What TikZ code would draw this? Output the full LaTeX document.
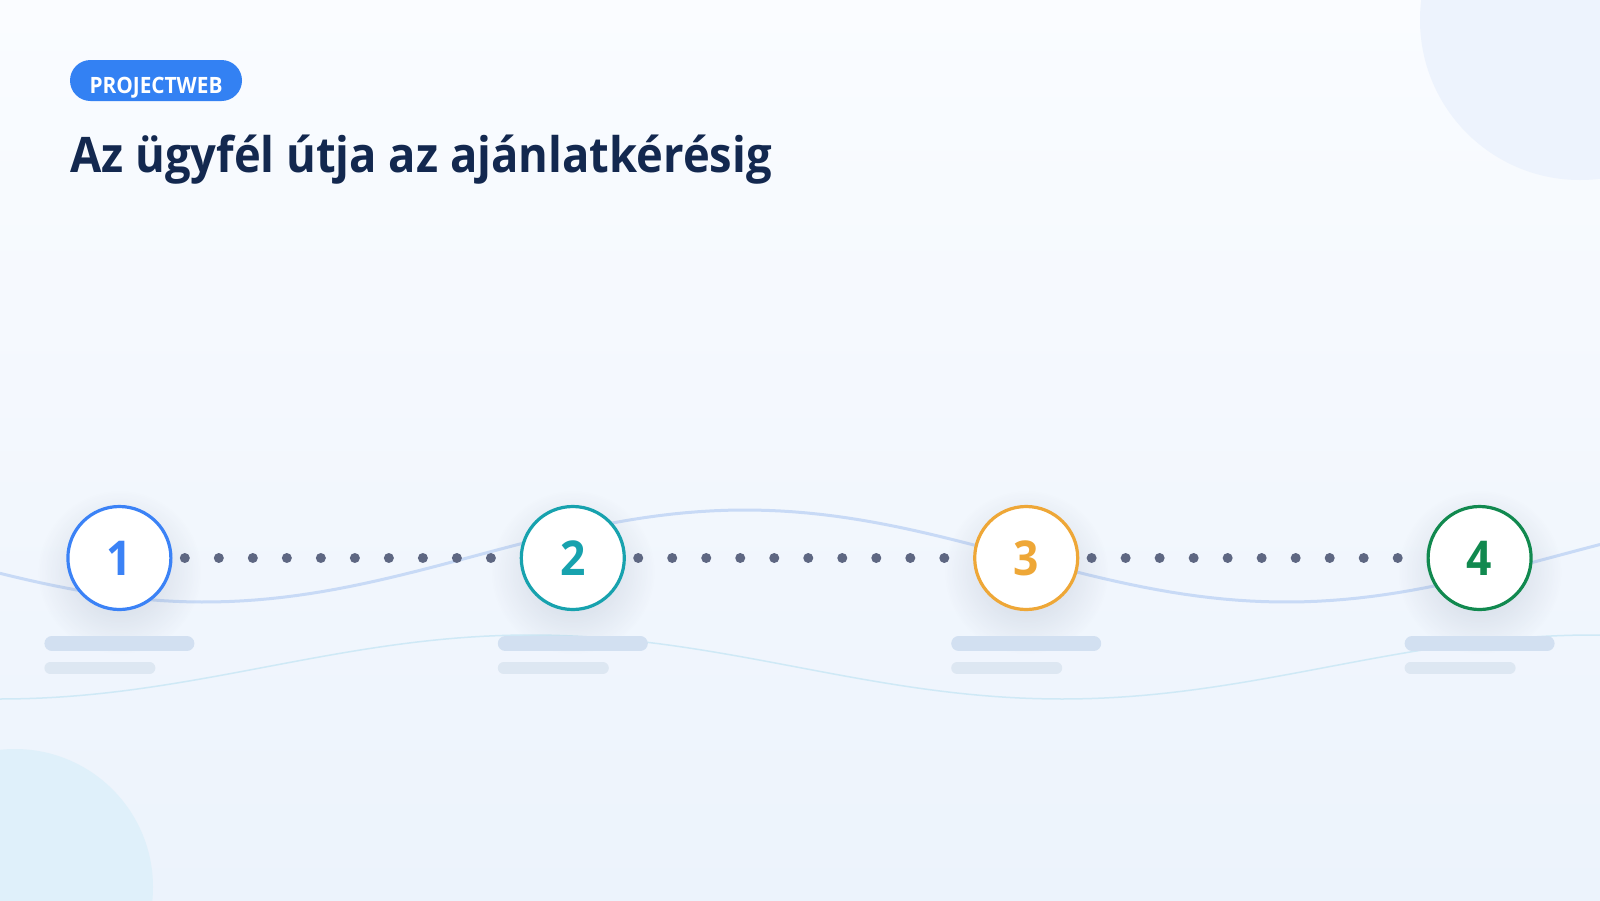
\documentclass[tikz,border=0pt]{standalone}
\usepackage{fontspec}
\setmainfont{Open Sans}
\newfontfamily\headfont[FakeStretch=0.925]{Open Sans}
\usepackage{tikz}
\usetikzlibrary{fadings,positioning}
\definecolor{bgtop}{HTML}{FAFCFF}
\definecolor{bgbot}{HTML}{ECF3FC}
\definecolor{decoA}{HTML}{EDF3FD}
\definecolor{decoB}{HTML}{DFF0FA}
\definecolor{badgeblue}{HTML}{3381F3}
\definecolor{titlenavy}{HTML}{13284F}
\definecolor{stepA}{HTML}{3B82F6}
\definecolor{stepB}{HTML}{17A2AE}
\definecolor{stepC}{HTML}{EEA737}
\definecolor{stepD}{HTML}{11894F}
\definecolor{dotgray}{HTML}{5E6782}
\definecolor{waveA}{HTML}{C8DAF6}
\definecolor{waveB}{HTML}{CFE9F6}
\definecolor{barA}{HTML}{D2E0F1}
\definecolor{barB}{HTML}{DDE7F2}
\definecolor{shadowgray}{HTML}{3A4A6B}
\tikzfading[name=softfade, inner color=transparent!0, outer color=transparent!100]
\tikzset{
	stepnode/.style={circle, draw=#1, line width=3.2pt, fill=white, text=#1, minimum size=103pt, inner sep=0pt,
		font=\headfont\fontsize{48}{48}\selectfont\bfseries},
	stepshadow/.style={fill=shadowgray, fill opacity=0.2, path fading=softfade},
	dotline/.style={dotgray, line width=10pt, line cap=round, dash pattern=on 0.01pt off 34pt, dash phase=21.7pt},
	barline/.style={line cap=round, line width=#1}
}

\begin{document}
\begin{tikzpicture}[x=1pt, y=-1pt]
	\useasboundingbox (0,0) rectangle (1600,900);
	% Background
	\shade[top color=bgtop, bottom color=bgbot] (0,0) rectangle (1600,900);
	\fill[decoA] (1580,20) circle[radius=160];
	\fill[decoB] (15,887) circle[radius=138];
	% Waves
	\draw[waveA, line width=3pt] plot[domain=0:1600, samples=120] ({\x}, {556+46*cos((\x-204)*0.33272)});
	\draw[waveB, line width=1.5pt] plot[domain=0:1600, samples=120] ({\x}, {667+32*cos(\x*0.33898)});
	% Header
	\node[fill=badgeblue, rounded corners=20.5pt, minimum width=172pt, minimum height=41pt, inner sep=0pt,
		text height=25pt, text depth=0pt, text=white, font=\headfont\fontsize{22.5}{22.5}\selectfont\bfseries]
		at (156,80.5) (badge) {PROJECTWEB};
	\node[anchor=base west, inner sep=0pt, text=titlenavy, font=\headfont\fontsize{49}{49}\selectfont\bfseries]
		at (70,172) (title) {Az ügyfél útja az ajánlatkérésig};
	% Placeholder bars
	\foreach \cx in {119.4,572.8,1026.2,1479.6} {
		\fill[stepshadow] (\cx,572) circle[radius=82];
		\draw[barA, barline=15pt] (\cx-67.5,643.5) -- (\cx+67.5,643.5);
		\draw[barB, barline=12pt] (\cx-69,668) -- (\cx+30,668);
	}
	% Steps
	\node[stepnode=stepA] at (119.4,558) (s1) {1};
	\node[stepnode=stepB] at (572.8,558) (s2) {2};
	\node[stepnode=stepC] at (1026.2,558) (s3) {3};
	\node[stepnode=stepD] at (1479.6,558) (s4) {4};
	% Dotted connectors
	\draw[dotline] (s1.east) -- (s2.west);
	\draw[dotline] (s2.east) -- (s3.west);
	\draw[dotline] (s3.east) -- (s4.west);
\end{tikzpicture}
\end{document}
